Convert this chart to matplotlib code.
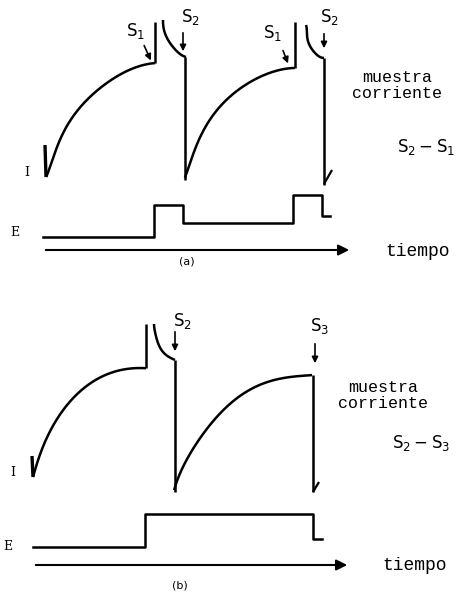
import numpy as np
import matplotlib.pyplot as plt

# ---- trace (a): two sampling cycles, S2 - S1 ----
a_rise1_x = [46, 50, 55, 62, 72, 85, 102, 118, 135, 148, 155]
a_rise1_y = [177, 168, 152, 135, 118, 102, 87, 75, 68, 64, 63]
a_rise2_x = [185, 190, 197, 207, 220, 237, 253, 270, 283, 295]
a_rise2_y = [178, 162, 145, 125, 105, 92, 80, 73, 69, 68]
a_decay1_x = [163, 164, 167, 173, 180, 186]
a_decay1_y = [20, 30, 38, 47, 54, 57]
a_decay2_x = [306, 307, 309, 315, 320, 324]
a_decay2_y = [25, 35, 44, 53, 57, 58]
a_gate_x = [155, 295]          # S1 gate opening
a_drop_x = [185, 324]          # S2 sampling point
a_drop_top = [57, 58]
a_drop_bot = [180, 185]

# potential steps (a)
a_e_t = [43, 154, 183, 293, 322, 330]
a_e_lvl = [237, 205, 223, 195, 216, 216]

# ---- trace (b): one cycle, S2 - S3 ----
b_rise1_x = [33, 40, 48, 58, 72, 88, 105, 115, 132, 146]
b_rise1_y = [477, 455, 435, 417, 400, 385, 375, 371, 369, 368]
b_rise2_x = [174, 182, 192, 205, 222, 238, 252, 272, 292, 312]
b_rise2_y = [490, 470, 450, 430, 413, 398, 387, 381, 377, 375]
b_decay_x = [154, 155, 157, 163, 169, 175]
b_decay_y = [324, 332, 340, 352, 357, 360]

b_e_t = [33, 145, 313, 322]
b_e_lvl = [547, 514, 539, 539]

fig = plt.figure(figsize=(4.63, 5.99), dpi=100)
ax = fig.add_axes([0, 0, 1, 1])
ax.set_xlim(0, 463)
ax.set_ylim(599, 0)
ax.axis('off')

lw = 1.8
k = 'black'

def line(x, y, w=lw):
    ax.plot(x, y, color=k, lw=w, solid_capstyle='butt', solid_joinstyle='round')

def curve(x, y):
    # smooth the hand-read samples with a dense cubic pass-through
    x = np.asarray(x, float)
    y = np.asarray(y, float)
    t = np.r_[0, np.cumsum(np.hypot(np.diff(x), np.diff(y)))]
    tt = np.linspace(0, t[-1], 200)
    from numpy.polynomial import polynomial as P
    cx = P.polyfit(t, x, 5)
    cy = P.polyfit(t, y, 5)
    ax.plot(P.polyval(tt, cx), P.polyval(tt, cy), color=k, lw=lw,
            solid_capstyle='butt')

def down_arrow(x, y0, y1):
    ax.annotate('', xy=(x, y1), xytext=(x, y0),
                arrowprops=dict(arrowstyle='-|>', color=k, lw=1.2, mutation_scale=9))

def slant_arrow(x0, y0, x1, y1):
    ax.annotate('', xy=(x1, y1), xytext=(x0, y0),
                arrowprops=dict(arrowstyle='-|>', color=k, lw=1.2, mutation_scale=9))

def time_axis(x0, x1, y):
    ax.annotate('', xy=(x1, y), xytext=(x0, y),
                arrowprops=dict(arrowstyle='-|>', color=k, lw=1.5, mutation_scale=16))

mono = 'Liberation Mono'
sfont = dict(fontsize=12, color=k, ha='center', va='center')

# ---------- (a) ----------
line([45, 46], [145, 177], w=2.4)
curve(a_rise1_x, a_rise1_y)
curve(a_rise2_x, a_rise2_y)
for gx, ry in zip(a_gate_x, [a_rise1_y[-1], a_rise2_y[-1]]):
    line([gx, gx], [ry, 22])
curve(a_decay1_x, a_decay1_y)
curve(a_decay2_x, a_decay2_y)
for dx, top, bot in zip(a_drop_x, a_drop_top, a_drop_bot):
    line([dx, dx], [top, bot])
line([324, 332], [184, 170], w=1.6)

ax.text(136, 31, r'$\mathregular{S_1}$', **sfont)
slant_arrow(143, 43, 152, 63)
ax.text(190, 17, r'$\mathregular{S_2}$', **sfont)
down_arrow(183, 30, 54)
ax.text(273, 33, r'$\mathregular{S_1}$', **sfont)
slant_arrow(282, 48, 289, 66)
ax.text(329, 17, r'$\mathregular{S_2}$', **sfont)
down_arrow(324, 31, 51)

ax.text(27, 172, 'I', fontsize=9, family='DejaVu Serif', ha='center', va='center')
ax.text(397, 78, 'muestra', family=mono, fontsize=12, ha='center', va='center')
ax.text(397, 94, 'corriente', family=mono, fontsize=12, ha='center', va='center')
ax.text(426, 147, r'$\mathregular{S_2 - S_1}$', **sfont)

ax.step(a_e_t, a_e_lvl, where='post', color=k, lw=lw)
ax.text(15, 233, 'E', fontsize=9, family='DejaVu Serif', ha='center', va='center')
time_axis(43, 352, 250)
ax.text(187, 261, '(a)', fontsize=8, ha='center', va='center')
ax.text(418, 251, 'tiempo', family=mono, fontsize=13, ha='center', va='center')

# ---------- (b) ----------
line([32, 33], [456, 477], w=2.4)
curve(b_rise1_x, b_rise1_y)
line([146, 146], [368, 324])
curve(b_decay_x, b_decay_y)
line([175, 175], [360, 492])
curve(b_rise2_x, b_rise2_y)
line([313, 313], [375, 492])
line([313, 319], [492, 482], w=1.6)

ax.text(182, 321, r'$\mathregular{S_2}$', **sfont)
down_arrow(175, 329, 354)
ax.text(320, 326, r'$\mathregular{S_3}$', **sfont)
down_arrow(315, 341, 366)

ax.text(13, 473, 'I', fontsize=9, family='DejaVu Serif', ha='center', va='center')
ax.text(383, 388, 'muestra', family=mono, fontsize=12, ha='center', va='center')
ax.text(383, 403, 'corriente', family=mono, fontsize=12, ha='center', va='center')
ax.text(421, 443, r'$\mathregular{S_2 - S_3}$', **sfont)

ax.step(b_e_t, b_e_lvl, where='post', color=k, lw=lw)
ax.text(8, 547, 'E', fontsize=9, family='DejaVu Serif', ha='center', va='center')
time_axis(33, 350, 565)
ax.text(180, 585, '(b)', fontsize=8, ha='center', va='center')
ax.text(415, 565, 'tiempo', family=mono, fontsize=13, ha='center', va='center')

fig.savefig('out.png', dpi=100)
